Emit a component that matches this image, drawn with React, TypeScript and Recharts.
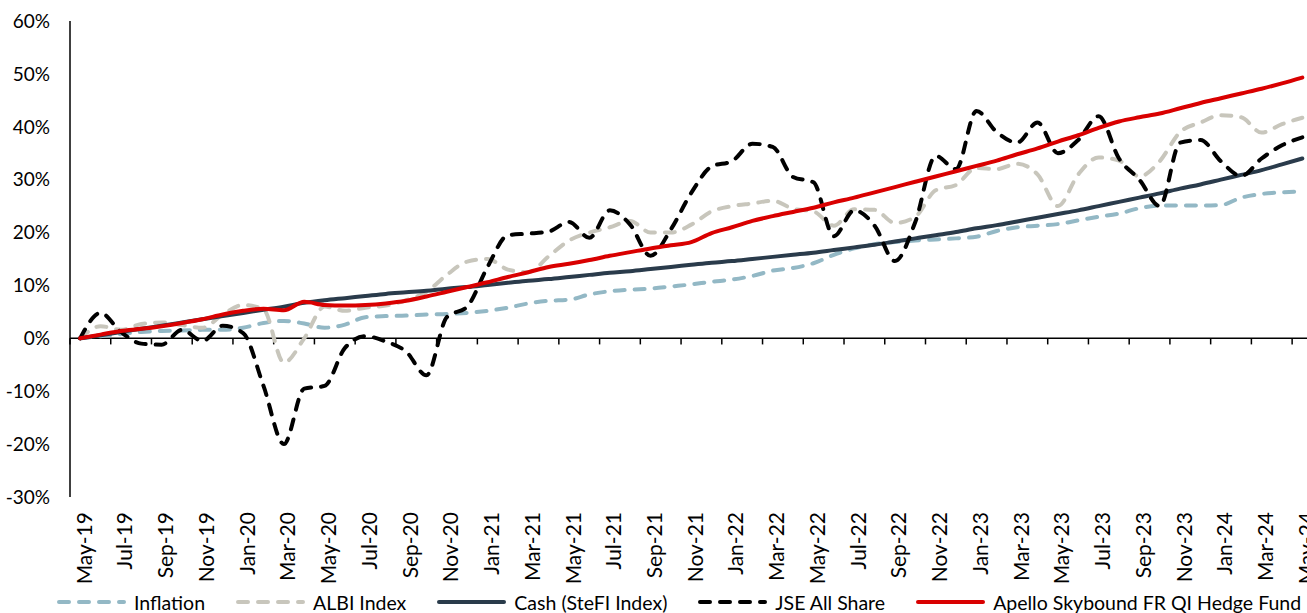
import { LineChart, Line, XAxis, YAxis, ReferenceLine, Legend } from "recharts";

const months = [
  "May-19", "Jun-19", "Jul-19", "Aug-19", "Sep-19", "Oct-19", "Nov-19", "Dec-19",
  "Jan-20", "Feb-20", "Mar-20", "Apr-20", "May-20", "Jun-20", "Jul-20", "Aug-20",
  "Sep-20", "Oct-20", "Nov-20", "Dec-20", "Jan-21", "Feb-21", "Mar-21", "Apr-21",
  "May-21", "Jun-21", "Jul-21", "Aug-21", "Sep-21", "Oct-21", "Nov-21", "Dec-21",
  "Jan-22", "Feb-22", "Mar-22", "Apr-22", "May-22", "Jun-22", "Jul-22", "Aug-22",
  "Sep-22", "Oct-22", "Nov-22", "Dec-22", "Jan-23", "Feb-23", "Mar-23", "Apr-23",
  "May-23", "Jun-23", "Jul-23", "Aug-23", "Sep-23", "Oct-23", "Nov-23", "Dec-23",
  "Jan-24", "Feb-24", "Mar-24", "Apr-24", "May-24",
];

const inflation = [
  0, 0.4, 0.8, 1.2, 1.4, 1.5, 1.6, 1.6, 2.0, 2.9,
  3.3, 2.8, 2.0, 2.6, 4.0, 4.2, 4.3, 4.5, 4.6, 4.8,
  5.2, 5.8, 6.6, 7.1, 7.3, 8.3, 8.9, 9.2, 9.4, 9.8,
  10.2, 10.7, 11.1, 11.8, 12.8, 13.3, 14.2, 15.8, 17.0, 17.8,
  18.2, 18.5, 18.7, 18.9, 19.2, 20.3, 21.0, 21.3, 21.6, 22.3,
  23.0, 23.6, 24.6, 25.1, 25.1, 25.1, 25.2, 26.6, 27.3, 27.6, 27.8,
];

const albi = [
  0, 2.3, 1.6, 2.7, 3.0, 2.5, 2.0, 4.5, 6.3, 5.5,
  -4.6, 0.0, 6.0, 5.2, 5.8, 6.2, 7.2, 8.8, 12.0, 14.5,
  15.0, 13.0, 12.5, 15.5, 18.5, 20.0, 21.0, 22.2, 20.0, 20.0,
  21.5, 24.0, 25.0, 25.5, 26.0, 24.5, 24.0, 21.3, 24.4, 24.3,
  21.8, 23.0, 28.0, 29.0, 32.2, 32.0, 33.0, 31.0, 25.0, 31.0,
  34.2, 33.6, 30.6, 33.5, 39.0, 40.8, 42.2, 41.8, 38.9, 40.5, 41.7,
];

const cash = [
  0, 0.6, 1.2, 1.8, 2.4, 3.0, 3.6, 4.2, 4.8, 5.4,
  6.0, 6.7, 7.2, 7.6, 8.0, 8.4, 8.7, 9.0, 9.4, 9.7,
  10.1, 10.5, 10.9, 11.2, 11.6, 12.0, 12.4, 12.7, 13.1, 13.5,
  13.9, 14.3, 14.6, 15.0, 15.4, 15.8, 16.2, 16.7, 17.2, 17.7,
  18.3, 18.9, 19.5, 20.1, 20.8, 21.4, 22.1, 22.8, 23.5, 24.2,
  25.0, 25.8, 26.6, 27.4, 28.3, 29.1, 30.0, 30.9, 31.8, 32.9, 34.0,
];

const jse = [
  0, 4.8, 1.2, -1.0, -1.2, 1.6, -0.5, 2.4, 1.0, -9.0,
  -20.0, -9.5, -9.0, -1.8, 0.4, -0.6, -2.5, -7.0, 4.0, 6.0,
  13.5, 19.5, 19.8, 20.2, 22.0, 19.0, 24.2, 21.5, 15.6, 20.6,
  27.5, 32.5, 33.5, 36.8, 36.2, 30.5, 29.5, 19.3, 24.2, 21.3,
  14.6, 22.0, 34.5, 32.0, 43.0, 39.0, 37.0, 40.8, 35.0, 37.5,
  42.0, 34.0, 30.0, 25.0, 37.0, 37.5, 33.5, 30.7, 34.0, 36.5, 38.0,
];

const apello = [
  0, 0.7, 1.4, 1.8, 2.3, 2.9, 3.6, 4.5, 5.2, 5.6,
  5.3, 6.9, 6.3, 6.2, 6.3, 6.6, 7.1, 7.9, 8.8, 9.7,
  10.6, 11.6, 12.5, 13.5, 14.1, 14.8, 15.6, 16.3, 17.0, 17.6,
  18.2, 19.9, 21.0, 22.2, 23.1, 23.9, 24.7, 25.7, 26.6, 27.6,
  28.6, 29.6, 30.6, 31.6, 32.6, 33.6, 34.8, 35.9, 37.2, 38.4,
  39.8, 41.0, 41.8, 42.5, 43.5, 44.5, 45.4, 46.3, 47.2, 48.2, 49.3,
];

const yTicks = [-30, -20, -10, 0, 10, 20, 30, 40, 50, 60];
const xLabelTicks = months.map((_, i) => i).filter((i) => i % 2 === 0);
const xBoundaryTicks = months.map((_, i) => i - 0.5).filter((_, i) => i % 2 === 0);

const series = [
  { key: "inflation", name: "Inflation", color: "#93B8C5", dash: "10 10" },
  { key: "albi", name: "ALBI Index", color: "#C8C6BC", dash: "10 10" },
  { key: "cash", name: "Cash (SteFI Index)", color: "#2A3B4B", dash: undefined },
  { key: "jse", name: "JSE All Share", color: "#000000", dash: "10 10" },
  { key: "apello", name: "Apello Skybound FR QI Hedge Fund", color: "#D90000", dash: undefined },
];

const data = months.map((m, i) => ({
  idx: i,
  month: m,
  inflation: inflation[i],
  albi: albi[i],
  cash: cash[i],
  jse: jse[i],
  apello: apello[i],
}));

const FONT = "Lato, 'Open Sans', sans-serif";

const MonthTick = ({ x, y, payload }: any) => (
  <text
    x={x + 3}
    y={y}
    transform={`rotate(-90 ${x + 3} ${y})`}
    textAnchor="end"
    dominantBaseline="central"
    fontSize={21}
    fontFamily={FONT}
    fill="#000"
  >
    {months[payload.value]}
  </text>
);

const LegendContent = () => (
  <div
    style={{
      display: "flex",
      alignItems: "center",
      height: 22,
      paddingLeft: 57,
      fontSize: 19.5,
      fontFamily: FONT,
      color: "#000",
      whiteSpace: "nowrap",
    }}
  >
    {series.map((s) => (
      <div key={s.key} style={{ display: "flex", alignItems: "center", marginRight: 31 }}>
        <svg width={70} height={10}>
          <line
            x1={2}
            y1={5}
            x2={67}
            y2={5}
            stroke={s.color}
            strokeWidth={4}
            strokeLinecap="round"
            strokeDasharray={s.dash}
          />
        </svg>
        <span style={{ marginLeft: 7 }}>{s.name}</span>
      </div>
    ))}
  </div>
);

export default function App() {
  return (
    <div
      style={{
        position: "fixed",
        top: 0,
        left: 0,
        width: 1307,
        height: 613,
        overflow: "hidden",
        background: "#fff",
      }}
    >
      <LineChart
        width={1320}
        height={613}
        data={data}
        margin={{ top: 21, right: 7.5, bottom: 0, left: 0 }}
      >
        <XAxis
          dataKey="idx"
          type="number"
          domain={[-0.5, 60.5]}
          ticks={xLabelTicks}
          interval={0}
          axisLine={false}
          tickLine={false}
          tickSize={0}
          tickMargin={15}
          height={94}
          tick={<MonthTick />}
        />
        <YAxis
          domain={[-30, 60]}
          ticks={yTicks}
          interval={0}
          width={70}
          axisLine={{ stroke: "#000", strokeWidth: 1.5 }}
          tickLine={false}
          tickSize={0}
          tickMargin={20}
          tickFormatter={(v) => `${v}%`}
          tick={{ fontSize: 19, fill: "#000", fontFamily: FONT }}
        />
        <ReferenceLine y={0} stroke="#000" strokeWidth={1.5} ifOverflow="visible" />
        {xBoundaryTicks.map((t) => (
          <ReferenceLine
            key={t}
            segment={[
              { x: t, y: 0 },
              { x: t, y: -1.15 },
            ]}
            stroke="#000"
            strokeWidth={1.5}
            ifOverflow="visible"
          />
        ))}
        <Legend verticalAlign="bottom" content={<LegendContent />} />
        {series.map((s) => (
          <Line
            key={s.key}
            dataKey={s.key}
            name={s.name}
            type="monotone"
            stroke={s.color}
            strokeWidth={4}
            strokeDasharray={s.dash}
            strokeLinecap="round"
            dot={false}
            activeDot={false}
            isAnimationActive={false}
          />
        ))}
      </LineChart>
    </div>
  );
}
